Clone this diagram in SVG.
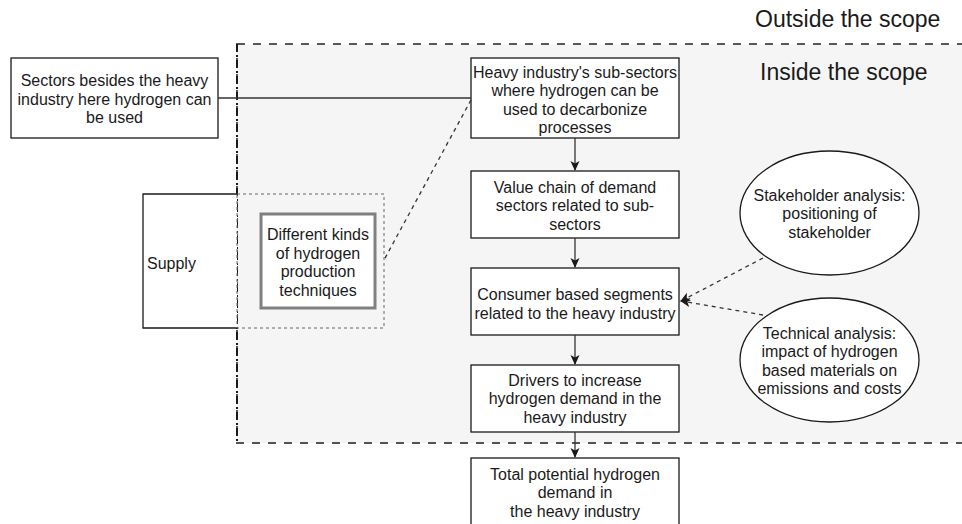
<svg xmlns="http://www.w3.org/2000/svg" width="962" height="524" viewBox="0 0 962 524">
  <style>
    text { font-family: "Liberation Sans", Arial, Helvetica, sans-serif; fill: #1a1a1a; }
    .t { font-size: 16px; text-anchor: middle; }
    .title { font-size: 23px; }
    .box { fill: #ffffff; stroke: #1a1a1a; stroke-width: 1.3; }
    .edge { fill: none; stroke: #333333; stroke-width: 1.3; }
    .dash { fill: none; stroke: #333333; stroke-width: 1.3; stroke-dasharray: 4 4; }
  </style>
  <defs>
    <marker id="arrow" viewBox="0 0 10 10" refX="9" refY="5" markerWidth="10" markerHeight="10" markerUnits="userSpaceOnUse" orient="auto">
      <path d="M0,0.5 L10,5 L0,9.5 L2.5,5 Z" fill="#1a1a1a"/>
    </marker>
  </defs>

  <!-- scope container -->
  <g id="scope">
    <rect x="237" y="44" width="740" height="399" fill="#f5f5f5" stroke="#555555" stroke-width="2" stroke-dasharray="8 8"/>
    <line x1="237" y1="44" x2="237" y2="443" stroke="#1a1a1a" stroke-width="2" stroke-dasharray="8 3 2 3"/>
    <text class="title" x="755" y="27">Outside the scope</text>
    <text class="title" x="760" y="80">Inside the scope</text>
  </g>

  <!-- supply -->
  <g id="supply">
    <path d="M237,194 L143,194 L143,328 L237,328" fill="#ffffff" stroke="#1a1a1a" stroke-width="1.3"/>
    <rect x="237" y="194" width="147" height="134" fill="none" stroke="#666666" stroke-width="1" stroke-dasharray="3 3"/>
    <text x="147" y="268.5" style="font-size:16px">Supply</text>
  </g>

  <g id="production">
    <rect x="261" y="214" width="114" height="94" fill="#ffffff" stroke="#808080" stroke-width="3"/>
    <text class="t" x="318" y="239.5">Different kinds</text>
    <text class="t" x="318" y="258.5">of hydrogen</text>
    <text class="t" x="318" y="277">production</text>
    <text class="t" x="318" y="296">techniques</text>
  </g>

  <g id="other-sectors">
    <rect class="box" x="11" y="58" width="207" height="80"/>
    <text class="t" x="114.5" y="86">Sectors besides the heavy</text>
    <text class="t" x="114.5" y="104.5">industry here hydrogen can</text>
    <text class="t" x="114.5" y="123">be used</text>
  </g>

  <g id="sub-sectors">
    <rect class="box" x="471" y="58" width="208" height="80"/>
    <text class="t" x="575" y="77.5">Heavy industry's sub-sectors</text>
    <text class="t" x="575" y="96">where hydrogen can be</text>
    <text class="t" x="575" y="114.5">used to decarbonize</text>
    <text class="t" x="575" y="133">processes</text>
  </g>

  <g id="value-chain">
    <rect class="box" x="471" y="171" width="208" height="67"/>
    <text class="t" x="575" y="192.5">Value chain of demand</text>
    <text class="t" x="575" y="211">sectors related to sub-</text>
    <text class="t" x="575" y="229.5">sectors</text>
  </g>

  <g id="segments">
    <rect class="box" x="471" y="268" width="208" height="67"/>
    <text class="t" x="575" y="299.5">Consumer based segments</text>
    <text class="t" x="575" y="318.5">related to the heavy industry</text>
  </g>

  <g id="drivers">
    <rect class="box" x="471" y="365" width="208" height="67"/>
    <text class="t" x="575" y="385.5">Drivers to increase</text>
    <text class="t" x="575" y="404">hydrogen demand in the</text>
    <text class="t" x="575" y="422.5">heavy industry</text>
  </g>

  <g id="total-demand">
    <rect class="box" x="471" y="458" width="208" height="70"/>
    <text class="t" x="575" y="479.5">Total potential hydrogen</text>
    <text class="t" x="575" y="498">demand in</text>
    <text class="t" x="575" y="517">the heavy industry</text>
  </g>

  <g id="stakeholder">
    <ellipse class="box" cx="829.5" cy="213" rx="89.5" ry="62"/>
    <text class="t" x="829.5" y="200.5">Stakeholder analysis:</text>
    <text class="t" x="829.5" y="219">positioning of</text>
    <text class="t" x="829.5" y="237.5">stakeholder</text>
  </g>

  <g id="technical">
    <ellipse class="box" cx="829.5" cy="360" rx="89.5" ry="62"/>
    <text class="t" x="829.5" y="338.5">Technical analysis:</text>
    <text class="t" x="829.5" y="357">impact of hydrogen</text>
    <text class="t" x="829.5" y="375.5">based materials on</text>
    <text class="t" x="829.5" y="394">emissions and costs</text>
  </g>

  <!-- connectors -->
  <g id="connectors">
    <line class="edge" x1="218" y1="98" x2="471" y2="98"/>
    <line class="dash" x1="471" y1="100" x2="384" y2="260" stroke-dasharray="3 3"/>
    <line class="edge" x1="575" y1="138" x2="575" y2="170" marker-end="url(#arrow)"/>
    <line class="edge" x1="575" y1="238" x2="575" y2="267" marker-end="url(#arrow)"/>
    <line class="edge" x1="575" y1="335" x2="575" y2="364" marker-end="url(#arrow)"/>
    <line class="edge" x1="575" y1="432" x2="575" y2="457" marker-end="url(#arrow)"/>
    <line class="dash" x1="763" y1="258" x2="681" y2="301" marker-end="url(#arrow)"/>
    <line class="dash" x1="763" y1="315" x2="681" y2="301" marker-end="url(#arrow)"/>
  </g>
</svg>
